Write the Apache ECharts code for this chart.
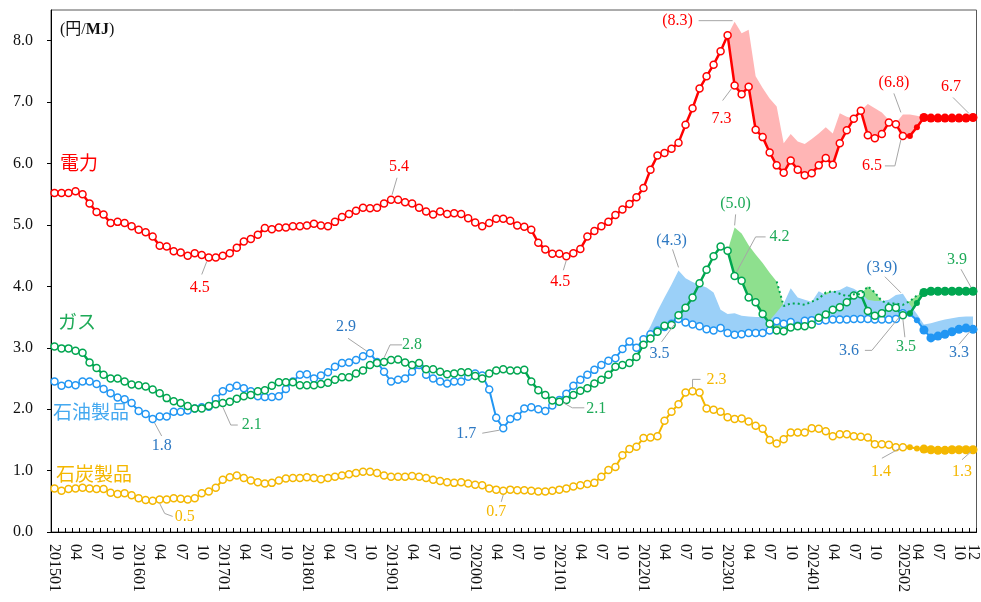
<!DOCTYPE html>
<html><head><meta charset="utf-8">
<script src="https://cdn.jsdelivr.net/npm/echarts@6/dist/echarts.min.js"></script>
<style>html,body{margin:0;padding:0;background:#fff}#c{width:981px;height:602px}</style>
</head><body><div id="c"></div>
<script>
// ---------- categories (monthly, 2015-01 .. 2025-12) ----------
const months = [];
for (let y = 2015; y <= 2025; y++) for (let m = 1; m <= 12; m++) months.push(String(y) + (m < 10 ? '0' : '') + m);
const lastActual = '202502';

// ---------- tick labels ----------
const xTickLabels = {
  '201501':'201501','201504':'04','201507':'07','201510':'10',
  '201601':'201601','201604':'04','201607':'07','201610':'10',
  '201701':'201701','201704':'04','201707':'07','201710':'10',
  '201801':'201801','201804':'04','201807':'07','201810':'10',
  '201901':'201901','201904':'04','201907':'07','201910':'10',
  '202001':'202001','202004':'04','202007':'07','202010':'10',
  '202101':'202101','202104':'04','202107':'07','202110':'10',
  '202201':'202201','202204':'04','202207':'07','202210':'10',
  '202301':'202301','202304':'04','202307':'07','202310':'10',
  '202401':'202401','202404':'04','202407':'07','202410':'10',
  '202502':'202502','202504':'04','202507':'07','202510':'10','202512':'12'
};
const yTickValues = [0,1,2,3,4,5,6,7,8];

// ---------- data (円/MJ) ----------
// 電力
const elecActual = [
 5.52,5.52,5.52,5.55,5.50,5.35,5.21,5.17,5.03,5.05,5.03,4.98,
 4.92,4.88,4.81,4.66,4.65,4.57,4.55,4.50,4.54,4.51,4.47,4.47,
 4.50,4.54,4.63,4.73,4.77,4.84,4.95,4.93,4.96,4.96,4.98,4.98,
 4.99,5.02,4.99,4.98,5.05,5.13,5.18,5.23,5.28,5.27,5.28,5.35,
 5.41,5.41,5.37,5.35,5.28,5.22,5.17,5.22,5.18,5.19,5.18,5.11,
 5.04,4.98,5.03,5.10,5.10,5.07,4.99,4.97,4.92,4.71,4.60,4.53,
 4.53,4.49,4.54,4.61,4.81,4.90,4.98,5.05,5.16,5.25,5.34,5.45,
 5.60,5.90,6.13,6.17,6.24,6.34,6.63,6.90,7.22,7.42,7.61,7.83,
 8.09,7.27,7.13,7.25,6.55,6.43,6.18,5.97,5.85,6.05,5.90,5.81,
 5.84,5.97,6.09,5.98,6.33,6.54,6.73,6.86,6.46,6.41,6.48,6.67,
 6.64,6.45];
const elecForecast = [6.45,6.59,6.75,6.74,6.74,6.74,6.74,6.74,6.74,6.75];
const elecNoSubsidyStart = '202301';
const elecNoSubsidy = [
 8.09,8.31,8.12,8.18,7.42,7.23,7.06,6.93,6.33,6.48,6.36,6.32,
 6.40,6.49,6.59,6.49,6.82,6.76,6.73,6.86,6.97,6.90,6.83,6.71,
 6.66,6.80,6.80,6.78,6.75];

// ガス
const gasActual = [
 3.02,2.99,2.99,2.95,2.92,2.76,2.67,2.56,2.50,2.50,2.45,2.40,
 2.39,2.37,2.32,2.26,2.18,2.13,2.10,2.05,2.01,2.01,2.05,2.08,
 2.10,2.12,2.17,2.21,2.23,2.29,2.31,2.38,2.44,2.44,2.44,2.39,
 2.39,2.39,2.41,2.43,2.48,2.52,2.52,2.58,2.63,2.72,2.75,2.77,
 2.80,2.81,2.76,2.72,2.75,2.65,2.65,2.61,2.57,2.58,2.60,2.60,
 2.54,2.50,2.58,2.63,2.65,2.63,2.63,2.64,2.45,2.31,2.23,2.14,
 2.12,2.15,2.23,2.30,2.34,2.42,2.48,2.56,2.69,2.72,2.75,2.85,
 3.05,3.15,3.26,3.36,3.37,3.53,3.65,3.82,4.05,4.27,4.49,4.65,
 4.58,4.17,4.09,3.82,3.74,3.55,3.39,3.28,3.27,3.33,3.35,3.35,
 3.38,3.49,3.54,3.62,3.66,3.74,3.85,3.87,3.60,3.52,3.56,3.65,
 3.65,3.53];
const gasForecast = [3.56,3.73,3.90,3.92,3.92,3.92,3.92,3.92,3.92,3.92];
const gasNoSubsidyStart = '202301';
const gasNoSubsidy = [
 4.58,4.96,4.86,4.67,4.52,4.38,4.22,4.08,3.68,3.72,3.72,3.70,
 3.75,3.80,3.90,3.92,3.88,3.84,3.87,3.87,4.00,3.90,3.76,3.72,
 3.72,3.70,3.76,3.85,3.90];
const gasDottedFrom = '202308';

// 石油製品
const oilActual = [
 2.45,2.38,2.41,2.39,2.45,2.45,2.41,2.33,2.26,2.19,2.16,2.10,
 1.97,1.92,1.84,1.88,1.88,1.96,1.96,1.98,2.01,2.03,2.04,2.17,
 2.29,2.35,2.38,2.34,2.29,2.21,2.20,2.20,2.21,2.33,2.45,2.56,
 2.57,2.50,2.55,2.60,2.69,2.75,2.76,2.80,2.86,2.91,2.77,2.61,
 2.45,2.48,2.50,2.61,2.72,2.56,2.50,2.45,2.42,2.45,2.45,2.53,
 2.58,2.55,2.32,1.86,1.69,1.84,1.88,2.01,2.03,2.00,1.97,2.06,
 2.15,2.25,2.38,2.48,2.56,2.64,2.72,2.79,2.83,2.98,3.10,3.00,
 3.14,3.22,3.28,3.34,3.39,3.47,3.41,3.38,3.35,3.30,3.28,3.32,
 3.24,3.21,3.22,3.24,3.24,3.24,3.28,3.43,3.39,3.42,3.36,3.44,
 3.45,3.44,3.45,3.46,3.46,3.46,3.47,3.47,3.47,3.46,3.46,3.46,
 3.47,3.56];
const oilForecast = [3.55,3.45,3.29,3.16,3.19,3.22,3.26,3.30,3.32,3.30];
const oilNoSubsidyStart = '202201';
const oilNoSubsidy = [
 3.14,3.35,3.60,3.82,4.03,4.26,4.13,4.07,4.02,3.98,3.90,3.62,
 3.55,3.56,3.52,3.51,3.50,3.50,3.45,3.58,3.72,3.97,3.82,3.78,
 3.75,3.92,3.86,3.92,3.94,4.00,3.96,3.89,3.78,3.76,3.76,3.78,
 3.86,3.88,3.70,3.55,3.38,3.40,3.43,3.46,3.48,3.50,3.51,3.51];

// 石炭製品
const coalActual = [
 0.71,0.67,0.70,0.71,0.72,0.71,0.70,0.70,0.64,0.62,0.63,0.60,
 0.55,0.52,0.51,0.53,0.53,0.55,0.54,0.53,0.55,0.63,0.66,0.72,
 0.85,0.89,0.92,0.88,0.84,0.81,0.79,0.80,0.84,0.87,0.88,0.88,
 0.89,0.88,0.86,0.88,0.90,0.92,0.94,0.96,0.98,0.98,0.96,0.92,
 0.90,0.90,0.90,0.91,0.90,0.88,0.85,0.83,0.81,0.80,0.81,0.79,
 0.77,0.76,0.71,0.69,0.67,0.69,0.68,0.68,0.67,0.66,0.66,0.67,
 0.69,0.71,0.74,0.76,0.78,0.80,0.90,1.01,1.06,1.25,1.35,1.39,
 1.53,1.54,1.56,1.81,1.96,2.08,2.27,2.29,2.27,2.01,1.99,1.96,
 1.87,1.84,1.85,1.80,1.73,1.68,1.50,1.44,1.51,1.62,1.62,1.62,
 1.69,1.68,1.64,1.56,1.59,1.59,1.56,1.55,1.54,1.43,1.43,1.42,
 1.38,1.38];
const coalForecast = [1.38,1.36,1.35,1.34,1.33,1.33,1.34,1.34,1.34,1.34];

// ---------- annotations (text) ----------
const annotations = [
 {s:'elec', m:'201901', t:'5.4', c:'elec', dx:8, dy:-33, L:[[6,-22],[1,-5]]},
 {s:'elec', m:'201611', t:'4.5', c:'elec', dx:-9, dy:30, L:[[-7,17],[-2,4]]},
 {s:'elec', m:'202102', t:'4.5', c:'elec', dx:-6, dy:26, L:[[-3,14],[0,4]]},
 {s:'elecNS', m:'202302', t:'(8.3)', c:'elec', dx:-57, dy:-1, L:[[-36,-1],[-2,-1]]},
 {s:'elec', m:'202302', t:'7.3', c:'elec', dx:-13, dy:33, L:[[-12,15],[-3,3]]},
 {s:'elecNS', m:'202502', t:'(6.8)', c:'elec', dx:-9, dy:-32, L:[[-9,-21],[-2,-2]]},
 {s:'elec', m:'202502', t:'6.5', c:'elec', dx:-31, dy:30, L:[[-18,30],[-8,30],[-2,4]]},
 {s:'elec', m:'202512', t:'6.7', c:'elec', dx:-22, dy:-31, L:[[-20,-20],[-4,-4]]},
 {s:'gas', m:'201701', t:'2.1', c:'gas', dx:29, dy:22, L:[[15,22],[8,22],[0,4]]},
 {s:'gas', m:'201812', t:'2.8', c:'gas', dx:28, dy:-17, L:[[18,-17],[6,-17],[0,-4]]},
 {s:'gas', m:'202101', t:'2.1', c:'gas', dx:37, dy:7, L:[[25,6],[13,6],[4,1]]},
 {s:'gasNS', m:'202302', t:'(5.0)', c:'gas', dx:1, dy:-24, L:[[1,-13],[0,-2]]},
 {s:'gas', m:'202302', t:'4.2', c:'gas', dx:45, dy:-39, L:[[31,-39],[21,-39],[2,-4]]},
 {s:'gas', m:'202512', t:'3.9', c:'gas', dx:-16, dy:-31, L:[[-12,-22],[-2,-4]]},
 {s:'gas', m:'202502', t:'3.5', c:'gas', dx:3, dy:32, L:[[2,22],[0,4]]},
 {s:'oil', m:'201603', t:'1.8', c:'oilT', dx:9, dy:27, L:[[9,17],[2,4]]},
 {s:'oil', m:'201810', t:'2.9', c:'oilT', dx:-24, dy:-26, L:[[-22,-15],[-3,-2]]},
 {s:'oil', m:'202005', t:'1.7', c:'oilT', dx:-37, dy:6, L:[[-21,5],[-4,2]]},
 {s:'oilNS', m:'202206', t:'(4.3)', c:'oilT', dx:-7, dy:-30, L:[[-6,-21],[0,-3]]},
 {s:'oil', m:'202206', t:'3.5', c:'oilT', dx:-19, dy:35, L:[[-17,23],[-3,4]]},
 {s:'oilNS', m:'202502', t:'(3.9)', c:'oilT', dx:-21, dy:-26, L:[[-18,-17],[-2,-1]]},
 {s:'oil', m:'202502', t:'3.6', c:'oilT', dx:-54, dy:37, L:[[-38,37],[-31,37],[-3,3]]},
 {s:'oil', m:'202512', t:'3.3', c:'oilT', dx:-14, dy:23, L:[[-14,15],[-3,2]]},
 {s:'coal', m:'201604', t:'0.5', c:'coal', dx:25, dy:17, L:[[13,17],[5,14],[0,4]]},
 {s:'coal', m:'202005', t:'0.7', c:'coal', dx:-7, dy:21, L:[[-2,11],[0,4]]},
 {s:'coal', m:'202208', t:'2.3', c:'coal', dx:24, dy:-12, L:[[8,-12],[0,-12],[0,-4]]},
 {s:'coal', m:'202502', t:'1.4', c:'coal', dx:-22, dy:25, L:[[-21,11],[-3,1]]},
 {s:'coal', m:'202512', t:'1.3', c:'coal', dx:-11, dy:22, L:[[-11,10],[-2,2]]}
];
const seriesNames = [
 {t:'電力', c:'elec', x:60, y:163},
 {t:'ガス', c:'gas', x:58, y:322},
 {t:'石油製品', c:'oilN', x:53, y:412},
 {t:'石炭製品', c:'coal', x:56, y:474}
];

// ---------- styles ----------
const COL = {
  elec:'#FF0000', elecFill:'#FFB5B5',
  gas:'#00A650', gasFill:'#8EE08E', gasT:'#1EAA58',
  oil:'#2196F3', oilFill:'#9BD0F8', oilT:'#2D78C2', oilN:'#45A9F0',
  coal:'#F4B700'
};
const SERIF = '"Liberation Serif","Times New Roman",serif';
const CJK = '"Noto Sans CJK JP","Noto Sans",sans-serif';

// ---------- helpers ----------
const iLast = months.indexOf(lastActual);
const full = (act, fc) => months.map((m, i) => i <= iLast ? act[i] : fc[i - iLast - 1]);
const spread = (start, arr) => { const s = months.indexOf(start); return months.map((m, i) => (i >= s && i < s + arr.length) ? arr[i - s] : null); };
const elecFull = full(elecActual, elecForecast), gasFull = full(gasActual, gasForecast);
const oilFull = full(oilActual, oilForecast), coalFull = full(coalActual, coalForecast);
const elecNS = spread(elecNoSubsidyStart, elecNoSubsidy);
const gasNS = spread(gasNoSubsidyStart, gasNoSubsidy);
const oilNS = spread(oilNoSubsidyStart, oilNoSubsidy);
const diff = (top, base) => top.map((v, i) => v == null ? '-' : +(v - base[i]).toFixed(3));
const actualData = act => months.map((m, i) => i <= iLast ? act[i] : '-');
const forecastData = fc => months.map((m, i) => i < iLast ? '-' : (i === iLast ? null : fc[i - iLast - 1]));
const lookup = {elec: elecFull, elecNS: elecNS, gas: gasFull, gasNS: gasNS, oil: oilFull, oilNS: oilNS, coal: coalFull};

function areaPair(name, base, top, fill, z) {
  return [
    {name: name + 'base', type: 'line', stack: name, stackStrategy: 'all', data: base, symbol: 'none', silent: true,
     lineStyle: {opacity: 0}, z: z, animation: false},
    {name: name + 'area', type: 'line', stack: name, stackStrategy: 'all', data: diff(top, base), symbol: 'none', silent: true,
     lineStyle: {opacity: 0}, areaStyle: {color: fill, opacity: 1}, z: z, animation: false}
  ];
}
function actualSeries(name, act, col, width) {
  return {name: name, type: 'line', data: actualData(act), symbol: 'circle', symbolSize: 7, showAllSymbol: true,
    itemStyle: {color: '#fff', borderColor: col, borderWidth: 1.5}, lineStyle: {color: col, width: width}, z: 4, animation: false};
}
function forecastSeries(name, act, fc, col, width) {
  const d = forecastData(fc);
  d[iLast] = {value: act[iLast], symbol: 'none'};
  return {name: name + 'fc', type: 'line', data: d, symbol: 'circle', showAllSymbol: true,
    symbolSize: (v, p) => p.dataIndex <= iLast + 2 ? 6 : 9,
    itemStyle: {color: col}, lineStyle: {color: col, width: width}, z: 4, animation: false};
}

const gasDotted = gasNS.map((v, i) => (i >= months.indexOf(gasDottedFrom) && v != null) ? v : '-');

const chart = echarts.init(document.getElementById('c'), null, {renderer: 'canvas'});
const option = {
  animation: false,
  backgroundColor: '#fff',
  grid: {left: 51, right: 4, top: 10, bottom: 70, show: true, borderColor: '#595959', borderWidth: 1},
  xAxis: {
    type: 'category', data: months, boundaryGap: true,
    axisLine: {lineStyle: {color: '#000', width: 1}},
    axisTick: {show: true, inside: true, interval: 0, length: 4, lineStyle: {color: '#000'}},
    axisLabel: {interval: 0, rotate: -90, margin: 12, color: '#111', fontFamily: SERIF, fontSize: 16,
      formatter: v => xTickLabels[v] || ''},
    splitLine: {show: false}
  },
  yAxis: {
    type: 'value', min: 0, max: 8.5, interval: 1,
    axisLine: {show: true, lineStyle: {color: '#000', width: 1}},
    axisTick: {show: true, inside: false, length: 4, lineStyle: {color: '#000'}},
    axisLabel: {color: '#111', fontFamily: SERIF, fontSize: 16, margin: 18, showMaxLabel: false,
      formatter: v => yTickValues.indexOf(v) >= 0 ? v.toFixed(1) : ''},
    splitLine: {show: false}
  },
  series: [].concat(
    areaPair('gasNS', gasFull, gasNS, COL.gasFill, 1),
    areaPair('oilNS', oilFull, oilNS, COL.oilFill, 2),
    areaPair('elecNS', elecFull, elecNS, COL.elecFill, 2),
    [
      actualSeries('coal', coalActual, COL.coal, 2),
      forecastSeries('coal', coalActual, coalForecast, COL.coal, 2),
      actualSeries('oil', oilActual, COL.oil, 2),
      forecastSeries('oil', oilActual, oilForecast, COL.oil, 2),
      actualSeries('gas', gasActual, COL.gas, 2.5),
      forecastSeries('gas', gasActual, gasForecast, COL.gas, 2.5),
      actualSeries('elec', elecActual, COL.elec, 2.5),
      forecastSeries('elec', elecActual, elecForecast, COL.elec, 2.5),
      {name: 'gasDotted', type: 'line', data: gasDotted, symbol: 'none', silent: true,
       lineStyle: {color: COL.gas, width: 2, type: [2, 3]}, z: 6, animation: false}
    ]
  )
};
chart.setOption(option);

// ---------- annotation graphics positioned through the chart's own scales ----------
const colorOf = k => ({elec: COL.elec, gas: COL.gasT, oilT: COL.oilT, oilN: COL.oilN, coal: COL.coal})[k];
const g = [];
annotations.forEach(a => {
  const idx = months.indexOf(a.m);
  const v = lookup[a.s][idx];
  const p = chart.convertToPixel({xAxisIndex: 0, yAxisIndex: 0}, [idx, v]);
  g.push({type: 'polyline', silent: true, z: 10,
    shape: {points: a.L.map(q => [p[0] + q[0], p[1] + q[1]])},
    style: {stroke: '#A6A6A6', lineWidth: 1, fill: null}});
  g.push({type: 'text', silent: true, z: 11, x: p[0] + a.dx, y: p[1] + a.dy,
    style: {text: a.t, fill: colorOf(a.c), font: '16px ' + SERIF, align: 'center', verticalAlign: 'middle'}});
});
seriesNames.forEach(s => {
  g.push({type: 'text', silent: true, z: 11, x: s.x, y: s.y,
    style: {text: s.t, fill: colorOf(s.c), font: '19px ' + CJK, align: 'left', verticalAlign: 'middle'}});
});
g.push({type: 'text', silent: true, z: 11, x: 60, y: 30,
  style: {text: '{a|(円/}{b|MJ}{a|)}', align: 'left', verticalAlign: 'middle',
    rich: {a: {fontFamily: SERIF + ',' + CJK, fontSize: 16, fill: '#111'},
           b: {fontFamily: SERIF, fontSize: 16, fontWeight: 'bold', fill: '#111'}}}});
chart.setOption({graphic: g});
</script>
</body></html>
